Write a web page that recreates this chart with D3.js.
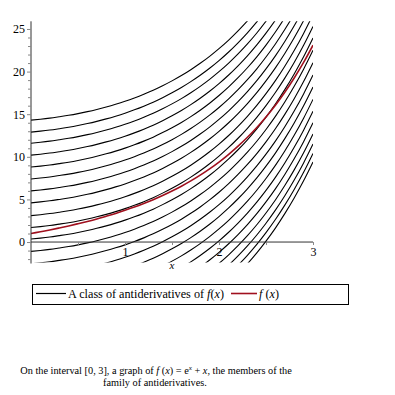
<!DOCTYPE html>
<html>
<head>
<meta charset="utf-8">
<script src="https://cdn.jsdelivr.net/npm/d3@7"></script>
<style>
  body { margin: 0; background: #fff; }
  svg { display: block; font-family: "Liberation Serif", "Times New Roman", serif; }
</style>
</head>
<body>
<div class="chart"></div>
<script>
// sample points along x
var xValues = [0, 0.1, 0.2, 0.3, 0.4, 0.5, 0.6, 0.7, 0.8, 0.9, 1.0, 1.1, 1.2, 1.3, 1.4, 1.5,
  1.6, 1.7, 1.8, 1.9, 2.0, 2.1, 2.2, 2.3, 2.4, 2.5, 2.6, 2.7, 2.8, 2.9, 3.0];

// antiderivative shape, measured relative to its value at x = 0
var baseCurve = [0, 0.11, 0.24, 0.40, 0.57, 0.77, 1.00, 1.26, 1.55, 1.87, 2.22, 2.61, 3.04,
  3.51, 4.04, 4.61, 5.23, 5.92, 6.67, 7.49, 8.39, 9.37, 10.45, 11.62, 12.90, 14.31,
  15.84, 17.53, 19.37, 21.38, 23.59];

// where each black curve starts (value at x = 0)
var startValues = [14.3, 12.9, 11.6, 10.2, 8.8, 7.4, 6.0, 4.6, 3.1, 1.7, 0.35, -1.1,
  -2.55, -4.0, -5.4, -6.85, -8.25, -9.6, -10.9, -12.1, -13.2, -14.2];

// the red curve f(x)
var fValues = [1.00, 1.21, 1.42, 1.65, 1.89, 2.15, 2.42, 2.71, 3.03, 3.36, 3.72, 4.10, 4.52,
  4.97, 5.46, 5.98, 6.55, 7.17, 7.85, 8.59, 9.39, 10.27, 11.23, 12.27, 13.42, 14.68,
  16.06, 17.58, 19.25, 21.07, 23.09];

var yTickLabels = [0, 5, 10, 15, 20, 25];
var xTickLabels = [1, 2, 3];

var svgWidth = 395, svgHeight = 395;

var svg = d3.select(".chart")
  .append("svg")
  .attr("width", svgWidth)
  .attr("height", svgHeight);

// scales
var x = d3.scaleLinear().domain([0, 3]).range([31, 313]);
var y = d3.scaleLinear().domain([-2.4, 25.9]).range([262.5, 21.3]);

svg.append("clipPath").attr("id", "plotClip")
  .append("rect")
  .attr("x", x(0)).attr("y", y(25.9))
  .attr("width", x(3) - x(0)).attr("height", y(-2.4) - y(25.9));

var line = d3.line()
  .x(d => x(d[0]))
  .y(d => y(d[1]))
  .curve(d3.curveMonotoneX);

var plot = svg.append("g").attr("clip-path", "url(#plotClip)");

// family of antiderivatives
startValues.forEach(function(c) {
  var pts = xValues.map((xv, i) => [xv, baseCurve[i] + c]);
  plot.append("path")
    .attr("d", line(pts))
    .attr("fill", "none")
    .attr("stroke", "#000")
    .attr("stroke-width", 1.1);
});

// f(x)
plot.append("path")
  .attr("d", line(xValues.map((xv, i) => [xv, fValues[i]])))
  .attr("fill", "none")
  .attr("stroke", "#a0101e")
  .attr("stroke-width", 1.6);

// y axis
var yAxis = d3.axisLeft(y)
  .tickValues(d3.range(-2, 26, 1))
  .tickSize(3)
  .tickFormat(d => yTickLabels.indexOf(d) >= 0 ? d : "");

var gy = svg.append("g")
  .attr("transform", `translate(${x(0)},0)`)
  .call(yAxis);
gy.select(".domain").attr("d", `M0,${y(25.9)}V${y(-2.4) + 1}`).attr("stroke", "#333");
gy.selectAll(".tick line").attr("stroke", "#888")
  .attr("x2", d => yTickLabels.indexOf(d) >= 0 ? -4 : -3);
gy.selectAll(".tick text")
  .attr("x", -6)
  .attr("font-family", "Liberation Serif, serif")
  .attr("font-size", 12)
  .attr("fill", "#000");

// x axis on y = 0
var xAxis = d3.axisBottom(x)
  .tickValues([0.5, 1, 1.5, 2, 2.5, 3])
  .tickSize(3)
  .tickFormat(d => xTickLabels.indexOf(d) >= 0 ? d : "");

var gx = svg.append("g")
  .attr("transform", `translate(0,${y(0)})`)
  .call(xAxis);
gx.select(".domain").attr("d", `M${x(0)},0H${x(3)}`).attr("stroke", "#333");
gx.selectAll(".tick line").attr("stroke", "#888");
gx.selectAll(".tick text")
  .attr("y", 5)
  .attr("font-family", "Liberation Serif, serif")
  .attr("font-size", 12)
  .attr("fill", "#000");

// axis name
svg.append("text")
  .attr("x", x(1.5))
  .attr("y", 269)
  .attr("text-anchor", "middle")
  .attr("font-size", 11)
  .attr("font-style", "italic")
  .text("x");

// legend
var legend = svg.append("g");
legend.append("rect")
  .attr("x", 32.5).attr("y", 284.5)
  .attr("width", 316).attr("height", 20)
  .attr("fill", "none").attr("stroke", "#000").attr("stroke-width", 1);

legend.append("line")
  .attr("x1", 36).attr("x2", 66).attr("y1", 293.5).attr("y2", 293.5)
  .attr("stroke", "#000").attr("stroke-width", 1.2);

var t1 = legend.append("text")
  .attr("x", 68).attr("y", 298)
  .attr("font-size", 12.2);
t1.append("tspan").text("A class of antiderivatives of ");
t1.append("tspan").attr("font-style", "italic").text("f");
t1.append("tspan").text("(");
t1.append("tspan").attr("font-style", "italic").text("x");
t1.append("tspan").text(")");

legend.append("line")
  .attr("x1", 231).attr("x2", 257).attr("y1", 293.5).attr("y2", 293.5)
  .attr("stroke", "#a0101e").attr("stroke-width", 1.6);

var t2 = legend.append("text")
  .attr("x", 259).attr("y", 298)
  .attr("font-size", 12.2);
t2.append("tspan").attr("font-style", "italic").text("f");
t2.append("tspan").text(" (");
t2.append("tspan").attr("font-style", "italic").text("x");
t2.append("tspan").text(")");

// caption
var cap1 = svg.append("text")
  .attr("x", 156).attr("y", 374)
  .attr("text-anchor", "middle")
  .attr("font-size", 10.3);
cap1.append("tspan").text("On the interval [0, 3], a graph of ");
cap1.append("tspan").attr("font-style", "italic").text("f");
cap1.append("tspan").text(" (");
cap1.append("tspan").attr("font-style", "italic").text("x");
cap1.append("tspan").text(") = e");
cap1.append("tspan").attr("font-size", 7).attr("dy", -4).attr("font-style", "italic").text("x");
cap1.append("tspan").attr("dy", 4).text(" + ");
cap1.append("tspan").attr("font-style", "italic").text("x");
cap1.append("tspan").text(", the members of the");

svg.append("text")
  .attr("x", 155).attr("y", 386)
  .attr("text-anchor", "middle")
  .attr("font-size", 10.3)
  .text("family of antiderivatives.");
</script>
</body>
</html>
